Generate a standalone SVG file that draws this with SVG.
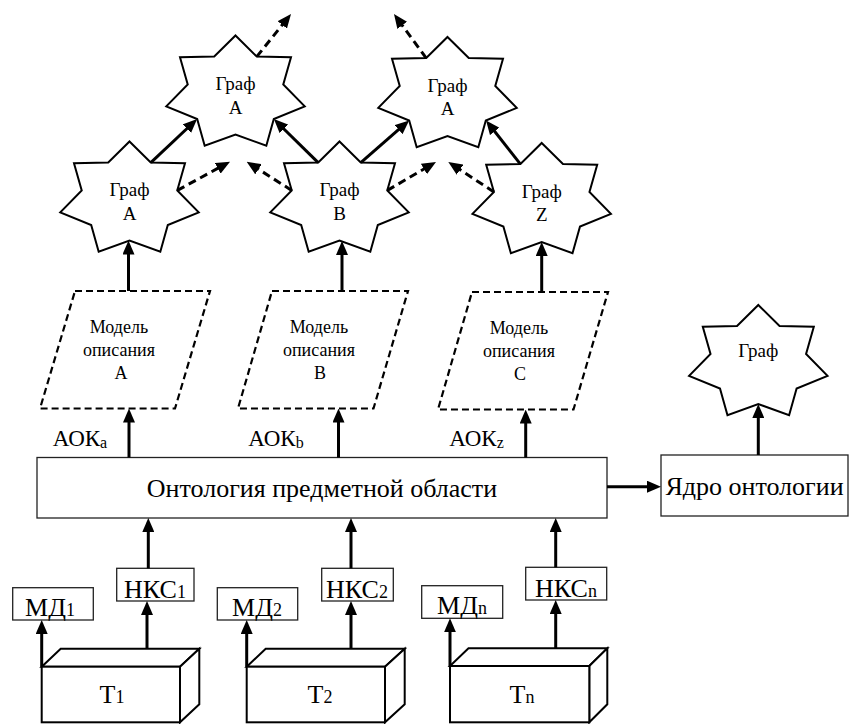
<svg xmlns="http://www.w3.org/2000/svg" width="853" height="724" viewBox="0 0 853 724">
<style>
text { font-family: "Liberation Serif", "Times New Roman", serif; fill: #000; }
.star { fill: #fff; stroke: #000; stroke-width: 2; stroke-linejoin: miter; }
.para { fill: #fff; stroke: #000; stroke-width: 2.2; stroke-dasharray: 7 4; }
.box { fill: #fff; stroke: #222; stroke-width: 1.3; }
.cube { fill: #fff; stroke: #000; stroke-width: 2; stroke-linejoin: miter; }
.arr { stroke: #000; stroke-width: 3; fill: none; marker-end: url(#ah); }
.dash { stroke-dasharray: 8 5; }
.g { font-size: 19px; text-anchor: middle; }
.m { font-size: 18px; text-anchor: middle; }
.big { font-size: 26px; text-anchor: middle; }
.lab { font-size: 23px; }
.sub { font-size: 16px; }
.bx { font-size: 26px; text-anchor: middle; }
.bsub { font-size: 18px; }
</style>
<defs>
<path id="star" d="M0,-58 L21.26,-36.94 L55.51,-36.16 L47.77,-9.12 L69.22,12.91 L38.31,25.56 L30.81,52.26 L0,41 L-30.81,52.26 L-38.31,25.56 L-69.22,12.91 L-47.77,-9.12 L-55.51,-36.16 L-21.26,-36.94 Z"/>
<marker id="ah" viewBox="0 0 14 12" refX="6" refY="6" markerWidth="14" markerHeight="12" markerUnits="userSpaceOnUse" orient="auto">
<path d="M0,0 L14,6 L0,12 Z" fill="#000"/>
</marker>
</defs>

<g id="graph-top-a1">
<use href="#star" class="star" transform="translate(235.5,93.5)"/>
<text class="g" x="235.5" y="90">Граф</text>
<text class="g" x="235.5" y="113.5">A</text>
</g>
<g id="graph-top-a2">
<use href="#star" class="star" transform="translate(447.5,95)"/>
<text class="g" x="447.5" y="91.5">Граф</text>
<text class="g" x="447.5" y="115">A</text>
</g>
<g id="graph-a">
<use href="#star" class="star" transform="translate(129.5,199.5)"/>
<text class="g" x="129.5" y="196">Граф</text>
<text class="g" x="129.5" y="219.5">A</text>
</g>
<g id="graph-b">
<use href="#star" class="star" transform="translate(339.5,199.5)"/>
<text class="g" x="339.5" y="196">Граф</text>
<text class="g" x="339.5" y="219.5">B</text>
</g>
<g id="graph-z">
<use href="#star" class="star" transform="translate(541.7,201)"/>
<text class="g" x="541.7" y="197.5">Граф</text>
<text class="g" x="541.7" y="221">Z</text>
</g>
<g id="graph-core">
<use href="#star" class="star" transform="translate(758.3,363)"/>
<text class="g" x="758.3" y="357">Граф</text>
</g>

<g id="model-a">
<polygon class="para" points="75,291 210,291 175,408.5 40,408.5"/>
<text class="m" x="119" y="333">Модель</text>
<text class="m" x="119" y="356">описания</text>
<text class="m" x="121" y="379">A</text>
</g>
<g id="model-b">
<polygon class="para" points="272,291 408,291 373.5,408.5 238,408.5"/>
<text class="m" x="319" y="333">Модель</text>
<text class="m" x="319" y="356">описания</text>
<text class="m" x="320" y="379">B</text>
</g>
<g id="model-c">
<polygon class="para" points="472,292 608,292 573.5,409.5 438,409.5"/>
<text class="m" x="519" y="334">Модель</text>
<text class="m" x="519" y="357">описания</text>
<text class="m" x="520" y="380">C</text>
</g>

<g id="labels">
<text class="lab" x="52.7" y="446">АОК<tspan class="sub" dy="2">a</tspan></text>
<text class="lab" x="248.3" y="446">АОК<tspan class="sub" dy="2">b</tspan></text>
<text class="lab" x="449.3" y="446">АОК<tspan class="sub" dy="2">z</tspan></text>
</g>

<g id="ontology">
<rect class="box" x="37" y="457.5" width="570" height="60.5"/>
<text class="big" x="322" y="497">Онтология предметной области</text>
</g>
<g id="core">
<rect class="box" x="661" y="455" width="187" height="61"/>
<text class="big" x="754.5" y="495">Ядро онтологии</text>
</g>

<g id="md1">
<rect class="box" x="12.7" y="587.7" width="80.6" height="32.3"/>
<text class="bx" x="50" y="615.5">МД<tspan class="bsub">1</tspan></text>
</g>
<g id="nks1">
<rect class="box" x="116.7" y="568.3" width="77.3" height="32.7"/>
<text class="bx" x="155" y="597.5">НКС<tspan class="bsub">1</tspan></text>
</g>
<g id="md2">
<rect class="box" x="217.3" y="587.7" width="80.4" height="32.3"/>
<text class="bx" x="257" y="615.5">МД<tspan class="bsub">2</tspan></text>
</g>
<g id="nks2">
<rect class="box" x="321.7" y="568.3" width="71.6" height="32.7"/>
<text class="bx" x="357" y="597.5">НКС<tspan class="bsub">2</tspan></text>
</g>
<g id="mdn">
<rect class="box" x="421.7" y="585.7" width="81" height="32.6"/>
<text class="bx" x="462" y="613.5">МД<tspan class="bsub">n</tspan></text>
</g>
<g id="nksn">
<rect class="box" x="525.7" y="567.3" width="81" height="32.7"/>
<text class="bx" x="566" y="596.5">НКС<tspan class="bsub">n</tspan></text>
</g>

<g id="t1">
<polygon class="cube" points="41.7,666.7 60.7,648.7 199.3,648.7 180,666.7"/>
<polygon class="cube" points="180,666.7 199.3,648.7 199.3,704.3 180,722.3"/>
<rect class="cube" x="41.7" y="666.7" width="138.3" height="55.6"/>
<text class="bx" x="112" y="703">Т<tspan class="bsub">1</tspan></text>
</g>
<g id="t2">
<polygon class="cube" points="246.7,666.7 265.7,648.7 404.7,648.7 385,666.7"/>
<polygon class="cube" points="385,666.7 404.7,648.7 404.7,704.3 385,722.3"/>
<rect class="cube" x="246.7" y="666.7" width="138.3" height="55.6"/>
<text class="bx" x="320" y="703">Т<tspan class="bsub">2</tspan></text>
</g>
<g id="tn">
<polygon class="cube" points="450,666 468.5,648.3 607.3,648.3 589.3,666"/>
<polygon class="cube" points="589.3,666 607.3,648.3 607.3,704.3 589.3,722.3"/>
<rect class="cube" x="450" y="666" width="139.3" height="56.3"/>
<text class="bx" x="522" y="703">Т<tspan class="bsub">n</tspan></text>
</g>

<g id="connectors">
<line class="arr" x1="150.8" y1="162.6" x2="191.3" y2="124.5"/>
<line class="arr" x1="318.2" y1="162.6" x2="279.6" y2="124.7"/>
<line class="arr" x1="360.8" y1="162.6" x2="403.1" y2="125.7"/>
<line class="arr" x1="520.4" y1="164.1" x2="491" y2="126.7"/>
<line class="arr dash" x1="177.3" y1="190.4" x2="223" y2="165.5"/>
<line class="arr dash" x1="291.7" y1="190.4" x2="253.4" y2="166"/>
<line class="arr dash" x1="387.3" y1="190.4" x2="429.1" y2="166"/>
<line class="arr dash" x1="493.9" y1="191.9" x2="455" y2="166.4"/>
<line class="arr dash" x1="256.8" y1="56.6" x2="286" y2="20.2"/>
<line class="arr dash" x1="426.2" y1="58.1" x2="398.7" y2="20.5"/>
<line class="arr" x1="128.5" y1="291" x2="128.5" y2="248.5"/>
<line class="arr" x1="342" y1="291" x2="342" y2="249"/>
<line class="arr" x1="541.7" y1="292" x2="541.7" y2="250"/>
<line class="arr" x1="129" y1="457.5" x2="129" y2="416.5"/>
<line class="arr" x1="338.5" y1="457.5" x2="338.5" y2="416.5"/>
<line class="arr" x1="525.7" y1="457.5" x2="525.7" y2="417.5"/>
<line class="arr" x1="758.3" y1="455" x2="758.3" y2="412"/>
<line class="arr" x1="607" y1="486.7" x2="653" y2="486.7"/>
<line class="arr" x1="148.3" y1="568.3" x2="148.3" y2="526"/>
<line class="arr" x1="351" y1="568.3" x2="351" y2="526"/>
<line class="arr" x1="555.7" y1="567.3" x2="555.7" y2="526"/>
<line class="arr" x1="147" y1="648.7" x2="147" y2="609"/>
<line class="arr" x1="41.7" y1="666.7" x2="41.7" y2="628"/>
<line class="arr" x1="351" y1="648.7" x2="351" y2="609"/>
<line class="arr" x1="246.7" y1="666.7" x2="246.7" y2="628"/>
<line class="arr" x1="555.7" y1="648.3" x2="555.7" y2="608"/>
<line class="arr" x1="450" y1="666" x2="450" y2="626.3"/>
</g>
</svg>
